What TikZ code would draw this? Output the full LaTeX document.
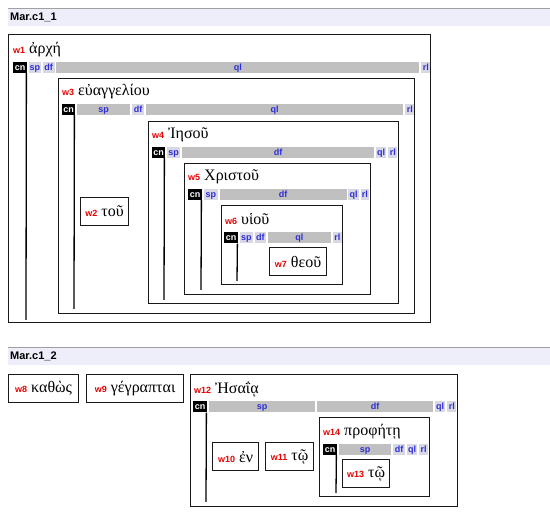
\documentclass[tikz,border=0pt]{standalone}
\usepackage{fontspec}
\setmainfont{Liberation Serif}
\setsansfont{Liberation Sans}
\usetikzlibrary{positioning}

\definecolor{wred}{RGB}{230,0,0}
\definecolor{slotblue}{RGB}{45,45,215}
\definecolor{bargray}{RGB}{192,192,192}
\definecolor{cellgray}{RGB}{216,216,228}
\definecolor{hdrbg}{RGB}{238,238,250}
\definecolor{hdrgray}{RGB}{160,160,160}

\newcommand{\wid}[1]{{\sffamily\bfseries\fontsize{9}{9}\selectfont\color{wred}#1}}

\tikzset{
  hdr/.style={anchor=north west, fill=hdrbg, inner sep=0pt, minimum width=542pt, minimum height=18pt},
  hdrtext/.style={anchor=west, inner sep=0pt, font=\sffamily\bfseries\fontsize{11}{11}\selectfont},
  wbox/.style={draw=black!90, line width=1.2pt, anchor=north west, inner sep=0pt},
  leaf/.style={draw=black!90, line width=1.2pt, anchor=north west, inner sep=0pt, minimum height=28pt, font=\fontsize{16}{16}\selectfont},
  wlab/.style={anchor=west, inner sep=0pt, font=\fontsize{16}{16}\selectfont},
  slot/.style={anchor=west, inner sep=0pt, minimum height=11pt, text height=6.5pt, text depth=0.5pt, font=\sffamily\bfseries\fontsize{9}{9}\selectfont, text=slotblue},
  slotcn/.style={slot, fill=black, text=white},
  slotfull/.style={slot, fill=bargray},
  slotempty/.style={slot, fill=cellgray},
  cnline/.style={line width=1.3pt},
  node distance=1.5pt
}

\begin{document}
\begin{tikzpicture}[x=1pt,y=-1pt]
\useasboundingbox (0,0) rectangle (550,526);

% Mar.c1_1
\node[hdr] (hdr1) at (8,8) {};
\draw[hdrgray] (hdr1.north west) -- (hdr1.north east);
\node[hdrtext] (title1) at (10,17) {Mar.c1\_1};

% w1
\node[wbox, minimum width=422pt, minimum height=288pt] (w1) at (8,34) {};
\node[wlab] (w1t) at (13,50) {\wid{w1} ἀρχή};
\node[slotcn, minimum width=14pt] (w1cn) at (13,67.5) {cn};
\node[slotempty, minimum width=11.5pt, right=of w1cn] (w1sp) {sp};
\node[slotempty, minimum width=12pt, right=of w1sp] (w1df) {df};
\node[slotfull, minimum width=363pt, right=of w1df] (w1ql) {ql};
\node[slotempty, minimum width=9pt, right=of w1ql] (w1rl) {rl};
\coordinate (w1end) at (26,320);
\draw[cnline] ([xshift=-1pt]w1cn.south east) -- (w1end);

% w3
\node[wbox, minimum width=356pt, minimum height=235pt] (w3) at (58,78) {};
\node[wlab] (w3t) at (62,92) {\wid{w3} εὐαγγελίου};
\node[slotcn, minimum width=13pt] (w3cn) at (62,109.5) {cn};
\node[slotfull, minimum width=53pt, right=of w3cn] (w3sp) {sp};
\node[slotempty, minimum width=12pt, right=of w3sp] (w3df) {df};
\node[slotfull, minimum width=257.5pt, right=of w3df] (w3ql) {ql};
\node[slotempty, minimum width=9pt, right=of w3ql] (w3rl) {rl};
\coordinate (w3end) at (74,309);
\draw[cnline] ([xshift=-1pt]w3cn.south east) -- (w3end);

% w2
\node[leaf, minimum width=48pt] (w2) at (80,197) {\wid{w2} τοῦ};

% w4
\node[wbox, minimum width=250pt, minimum height=182pt] (w4) at (148,121) {};
\node[wlab] (w4t) at (152,135) {\wid{w4} Ἰησοῦ};
\node[slotcn, minimum width=13pt] (w4cn) at (152,152.5) {cn};
\node[slotempty, minimum width=13pt, right=of w4cn] (w4sp) {sp};
\node[slotfull, minimum width=192pt, right=of w4sp] (w4df) {df};
\node[slotempty, minimum width=10.5pt, right=of w4df] (w4ql) {ql};
\node[slotempty, minimum width=9pt, right=of w4ql] (w4rl) {rl};
\coordinate (w4end) at (164,300);
\draw[cnline] ([xshift=-1pt]w4cn.south east) -- (w4end);

% w5
\node[wbox, minimum width=186pt, minimum height=131pt] (w5) at (184,163) {};
\node[wlab] (w5t) at (188,177) {\wid{w5} Χριστοῦ};
\node[slotcn, minimum width=14pt] (w5cn) at (188,194.5) {cn};
\node[slotempty, minimum width=13.5pt, right=of w5cn] (w5sp) {sp};
\node[slotfull, minimum width=127pt, right=of w5sp] (w5df) {df};
\node[slotempty, minimum width=10.5pt, right=of w5df] (w5ql) {ql};
\node[slotempty, minimum width=8pt, right=of w5ql] (w5rl) {rl};
\coordinate (w5end) at (201,290);
\draw[cnline] ([xshift=-1pt]w5cn.south east) -- (w5end);

% w6
\node[wbox, minimum width=121pt, minimum height=79pt] (w6) at (221,205) {};
\node[wlab] (w6t) at (225,219) {\wid{w6} υἱοῦ};
\node[slotcn, minimum width=14pt] (w6cn) at (224,238) {cn};
\node[slotempty, minimum width=12.5pt, right=of w6cn] (w6sp) {sp};
\node[slotempty, minimum width=11.5pt, right=of w6sp] (w6df) {df};
\node[slotfull, minimum width=63pt, right=of w6df] (w6ql) {ql};
\node[slotempty, minimum width=9pt, right=of w6ql] (w6rl) {rl};
\coordinate (w6end) at (237,281);
\draw[cnline] ([xshift=-1pt]w6cn.south east) -- (w6end);

% w7
\node[leaf, minimum width=57pt] (w7) at (269,247) {\wid{w7} θεοῦ};

% Mar.c1_2
\node[hdr] (hdr2) at (8,347) {};
\draw[hdrgray] (hdr2.north west) -- (hdr2.north east);
\node[hdrtext] (title2) at (10,356) {Mar.c1\_2};

\node[leaf, minimum width=70pt] (w8) at (8,374) {\wid{w8} καθὼς};
\node[leaf, minimum width=97pt] (w9) at (86,374) {\wid{w9} γέγραπται};

% w12
\node[wbox, minimum width=267pt, minimum height=132pt] (w12) at (190,374) {};
\node[wlab] (w12t) at (194,389) {\wid{w12} Ἠσαΐᾳ};
\node[slotcn, minimum width=14pt] (w12cn) at (193,407) {cn};
\node[slotfull, minimum width=106pt, right=of w12cn] (w12sp) {sp};
\node[slotfull, minimum width=116pt, right=of w12sp] (w12df) {df};
\node[slotempty, minimum width=10.5pt, right=of w12df] (w12ql) {ql};
\node[slotempty, minimum width=9pt, right=of w12ql] (w12rl) {rl};
\coordinate (w12end) at (206,502);
\draw[cnline] ([xshift=-1pt]w12cn.south east) -- (w12end);

\node[leaf, minimum width=46pt] (w10) at (212,442) {\wid{w10} ἐν};
\node[leaf, minimum width=48pt] (w11) at (265,442) {\wid{w11} τῷ};

% w14
\node[wbox, minimum width=110pt, minimum height=79pt] (w14) at (319,417) {};
\node[wlab] (w14t) at (323,432) {\wid{w14} προφήτῃ};
\node[slotcn, minimum width=14pt] (w14cn) at (323,449.5) {cn};
\node[slotfull, minimum width=52pt, right=of w14cn] (w14sp) {sp};
\node[slotempty, minimum width=12pt, right=of w14sp] (w14df) {df};
\node[slotempty, minimum width=10.5pt, right=of w14df] (w14ql) {ql};
\node[slotempty, minimum width=8.5pt, right=of w14ql] (w14rl) {rl};
\coordinate (w14end) at (336,493);
\draw[cnline] ([xshift=-1pt]w14cn.south east) -- (w14end);

\node[leaf, minimum width=47pt] (w13) at (342,459) {\wid{w13} τῷ};
\end{tikzpicture}
\end{document}
